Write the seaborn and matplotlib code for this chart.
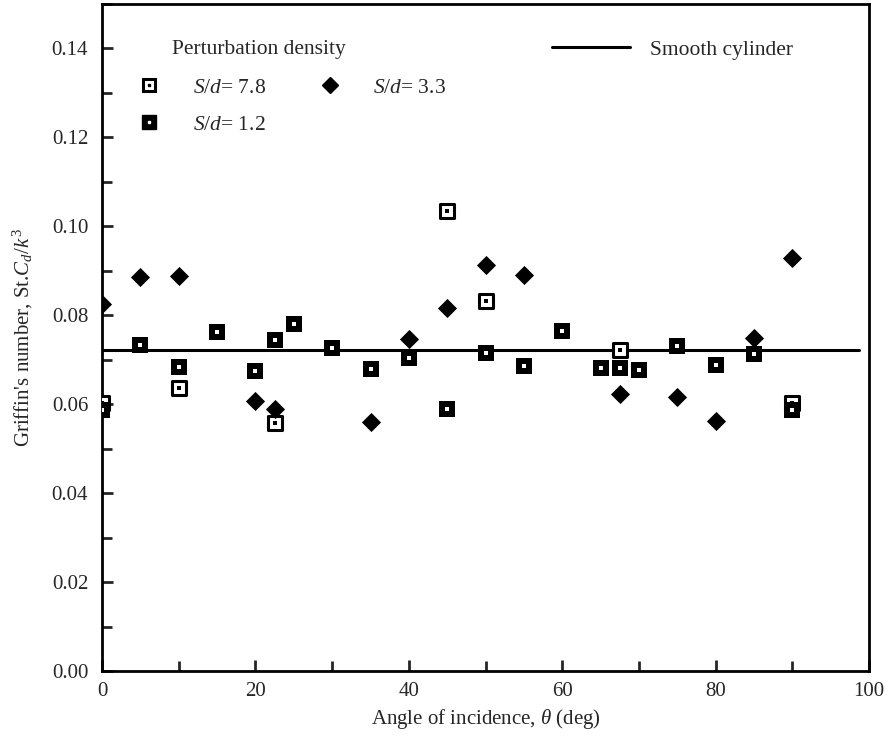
import numpy as np
import matplotlib
matplotlib.use("Agg")
import matplotlib.pyplot as plt
import pandas as pd
import seaborn as sns
from matplotlib.lines import Line2D
from matplotlib.ticker import MultipleLocator

# ---------------- data ----------------
theta_78 = [0, 10, 22.5, 45, 50, 67.5, 90]
st_78 = [0.0603, 0.0636, 0.0558, 0.1035, 0.0833, 0.0722, 0.0603]

theta_33 = [0, 5, 10, 20, 22.5, 35, 40, 45, 50, 55, 67.5, 75, 80, 85, 90]
st_33 = [0.0826, 0.0886, 0.0888, 0.0608, 0.0590, 0.0560, 0.0746, 0.0816,
         0.0913, 0.0890, 0.0623, 0.0617, 0.0562, 0.0749, 0.0928]

theta_12 = [0, 5, 10, 15, 20, 22.5, 25, 30, 35, 40, 45, 50, 55, 60, 65,
            67.5, 70, 75, 80, 85, 90]
st_12 = [0.0588, 0.0732, 0.0683, 0.0762, 0.0674, 0.0744, 0.0780, 0.0726,
         0.0679, 0.0703, 0.0590, 0.0715, 0.0686, 0.0764, 0.0682, 0.0682,
         0.0677, 0.0731, 0.0687, 0.0712, 0.0586]

smooth_theta = [0, 98.7]
smooth_st = [0.0722, 0.0722]

series_labels = ["$S/d$= 7.8", "$S/d$= 3.3", "$S/d$= 1.2"]

# ---------------- style ----------------
sns.set_style("ticks")
plt.rcParams['font.family'] = ['Liberation Serif', 'DejaVu Serif']
plt.rcParams['mathtext.fontset'] = 'custom'
plt.rcParams['mathtext.rm'] = 'Liberation Serif'
plt.rcParams['mathtext.it'] = 'Liberation Serif:italic'

fig = plt.figure(figsize=(8.91, 7.36), dpi=100)
ax = fig.add_axes([0.1145, 0.088, 0.861, 0.907])

df78 = pd.DataFrame({"theta": theta_78, "st": st_78})
df33 = pd.DataFrame({"theta": theta_33, "st": st_33})
df12 = pd.DataFrame({"theta": theta_12, "st": st_12})
dfs = pd.DataFrame({"theta": smooth_theta, "st": smooth_st})

sns.lineplot(data=dfs, x="theta", y="st", color="black", lw=2.2, ax=ax, zorder=1)

# S/d = 7.8 : open square with dot
sns.scatterplot(data=df78, x="theta", y="st", marker="s", s=110, color="white",
                edgecolor="black", linewidth=2.2, ax=ax, zorder=3)
sns.scatterplot(data=df78, x="theta", y="st", marker="s", s=6, color="black",
                edgecolor="black", linewidth=0, ax=ax, zorder=4)
# S/d = 3.3 : filled diamond
sns.scatterplot(data=df33, x="theta", y="st", marker="D", s=95, color="black",
                edgecolor="black", linewidth=0, ax=ax, zorder=3)
# S/d = 1.2 : filled square with white dot
sns.scatterplot(data=df12, x="theta", y="st", marker="s", s=120, color="black",
                edgecolor="black", linewidth=0, ax=ax, zorder=3)
sns.scatterplot(data=df12, x="theta", y="st", marker="s", s=5, color="white",
                edgecolor="white", linewidth=0, ax=ax, zorder=4)

ax.set_xlim(0, 100)
ax.set_ylim(0, 0.15)
ax.xaxis.set_major_locator(MultipleLocator(20))
ax.xaxis.set_minor_locator(MultipleLocator(10))
ax.yaxis.set_major_locator(MultipleLocator(0.02))
ax.yaxis.set_minor_locator(MultipleLocator(0.01))
ax.yaxis.set_major_formatter(plt.FuncFormatter(lambda v, p: f"{v:.2f}"))
ax.tick_params(which="both", direction="in", width=2, labelsize=15,
               top=False, right=False)
ax.tick_params(axis="y", pad=10)
ax.tick_params(axis="x", pad=8)
ax.tick_params(which="major", length=8)
ax.tick_params(which="minor", length=7)
for sp in ax.spines.values():
    sp.set_linewidth(2)
    sp.set_color("black")

ax.set_xlabel(r"Angle of incidence, $\theta$ (deg)", fontsize=15, labelpad=4)
ax.set_ylabel(r"Griffin's number, St.$C_d$/$k^3$", fontsize=15, labelpad=12)

# ---------------- legend (placed by hand, as in the original) ----------------
fs = 15.5
tr = ax.transAxes
dy = -0.005  # text sits a touch lower than the marker centres
ax.text(0.0913, 0.937 + dy, "Perturbation density", transform=tr, fontsize=fs,
        va="center", ha="left")
ax.add_line(Line2D([0.0613], [0.8786], transform=tr, marker="s", ls="none",
                   markersize=8.5, markerfacecolor="white", markeredgecolor="black",
                   markeredgewidth=2.2))
ax.add_line(Line2D([0.0613], [0.8786], transform=tr, marker="s", ls="none",
                   markersize=2, color="black"))
ax.text(0.1186, 0.8786 + dy, series_labels[0], transform=tr, fontsize=fs, va="center")
ax.add_line(Line2D([0.0613], [0.823], transform=tr, marker="s", ls="none",
                   markersize=9.5, color="black"))
ax.add_line(Line2D([0.0613], [0.823], transform=tr, marker="s", ls="none",
                   markersize=2, color="white"))
ax.text(0.1186, 0.823 + dy, series_labels[2], transform=tr, fontsize=fs, va="center")
ax.add_line(Line2D([0.2973], [0.8786], transform=tr, marker="D", ls="none",
                   markersize=8.5, color="black"))
ax.text(0.3533, 0.8786 + dy, series_labels[1], transform=tr, fontsize=fs, va="center")
ax.add_line(Line2D([0.5867, 0.6884], [0.9355, 0.9355], transform=tr,
                   color="black", lw=2.2))
ax.text(0.7145, 0.9355 + dy, "Smooth cylinder", transform=tr, fontsize=fs, va="center")

fig.savefig("out.png", dpi=100)
